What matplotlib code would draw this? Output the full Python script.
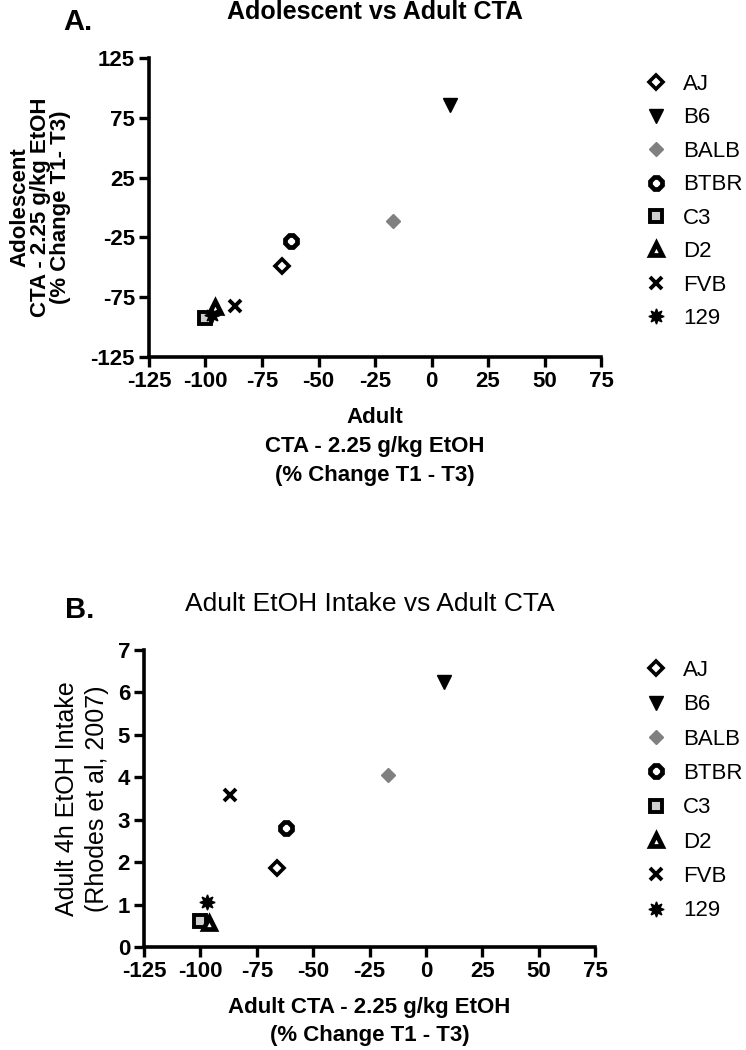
import matplotlib
matplotlib.use("Agg")
import matplotlib.pyplot as plt

plt.rcParams['font.family'] = ['Liberation Sans', 'DejaVu Sans']
plt.rcParams['axes.unicode_minus'] = False

# strains and their markers
strains = ['AJ', 'B6', 'BALB', 'BTBR', 'C3', 'D2', 'FVB', '129']

# adult CTA (% change T1 - T3), shared x for both panels
adult_cta = [-66, 8, -17, -62, -100, -96, -87, -97]
# adolescent CTA (% change T1 - T3)
adol_cta = [-49, 86, -11, -28, -92, -83, -82, -90]
# adult 4h EtOH intake (Rhodes et al, 2007)
adult_intake = [1.87, 6.25, 4.05, 2.8, 0.62, 0.57, 3.58, 1.05]

# marker styles per strain: (marker, size, facecolor, edgecolor, edgewidth)
styles = {
    'AJ':   ('D', 7.5, 'white', 'black', 2.6),
    'B6':   ('v', 9.5, 'black', 'black', 1.0),
    'BALB': ('D', 7.5, '#808080', '#808080', 1.0),
    'BTBR': ('8', 9, 'white', 'black', 3.4),
    'C3':   ('s', 8, '#cfcfcf', 'black', 2.8),
    'D2':   ('^', 9, 'white', 'black', 3.4),
    'FVB':  ('x', 9, 'black', 'black', 2.8),
    '129':  ((8, 1, 0), 11, 'black', 'black', 1.0),
}


def style_axes(ax, xticks, yticks):
    for s in ['top', 'right']:
        ax.spines[s].set_visible(False)
    for s in ['left', 'bottom']:
        ax.spines[s].set_linewidth(2.6)
    ax.tick_params(width=2.4, length=7, labelsize=16, pad=3)
    ax.set_xticks(xticks)
    ax.set_yticks(yticks)
    ax.set_xlim(xticks[0], xticks[-1])
    ax.set_ylim(yticks[0], yticks[-1])
    for lab in ax.get_xticklabels() + ax.get_yticklabels():
        lab.set_fontweight('bold')


def plot_strains(ax, x, y):
    for i, name in enumerate(strains):
        m, ms, fc, ec, mew = styles[name]
        ax.plot(x[i], y[i], linestyle='none', marker=m, markersize=ms,
                markerfacecolor=fc, markeredgecolor=ec, markeredgewidth=mew,
                label=name, clip_on=False, zorder=3)


fig = plt.figure(figsize=(7.46, 10.5), dpi=100)

# top panel
ax1 = fig.add_axes([149 / 746, 1 - 357 / 1050, 452 / 746, 299 / 1050])
plot_strains(ax1, adult_cta, adol_cta)
style_axes(ax1, [-125, -100, -75, -50, -25, 0, 25, 50, 75],
           [-125, -75, -25, 25, 75, 125])
ax1.set_title("Adolescent vs Adult CTA", fontsize=18, fontweight='bold', pad=28)
ax1.set_xlabel("Adult\nCTA - 2.25 g/kg EtOH\n(% Change T1 - T3)",
               fontsize=16, fontweight='bold', linespacing=1.5, labelpad=11)
ax1.set_ylabel("Adolescent\nCTA - 2.25 g/kg EtOH\n(% Change T1- T3)",
               fontsize=16, fontweight='bold', linespacing=0.95, labelpad=14)
ax1.legend(loc='upper left', bbox_to_anchor=(645 / 746, 1 - 74 / 1050),
           bbox_transform=fig.transFigure, frameon=False, fontsize=16,
           handlelength=1.0, handletextpad=0.7, labelspacing=0.56,
           borderpad=0, borderaxespad=0, numpoints=1)

# bottom panel
ax2 = fig.add_axes([144 / 746, 1 - 947 / 1050, 451 / 746, 297 / 1050])
plot_strains(ax2, adult_cta, adult_intake)
style_axes(ax2, [-125, -100, -75, -50, -25, 0, 25, 50, 75],
           [0, 1, 2, 3, 4, 5, 6, 7])
ax2.set_title("Adult EtOH Intake vs Adult CTA", fontsize=19, pad=28)
ax2.set_xlabel("Adult CTA - 2.25 g/kg EtOH\n(% Change T1 - T3)",
               fontsize=16, fontweight='bold', linespacing=1.45, labelpad=11)
ax2.set_ylabel("Adult 4h EtOH Intake\n(Rhodes et al, 2007)",
               fontsize=18, linespacing=1.35, labelpad=6)
ax2.legend(loc='upper left', bbox_to_anchor=(645 / 746, 1 - 660 / 1050),
           bbox_transform=fig.transFigure, frameon=False, fontsize=16,
           handlelength=1.0, handletextpad=0.7, labelspacing=0.6,
           borderpad=0, borderaxespad=0, numpoints=1)

# panel letters
fig.text(63 / 746, 1 - 22 / 1050, "A.", fontsize=21, fontweight='bold', va='center')
fig.text(65 / 746, 1 - 610 / 1050, "B.", fontsize=21, fontweight='bold', va='center')

fig.savefig("out.png", dpi=100)
